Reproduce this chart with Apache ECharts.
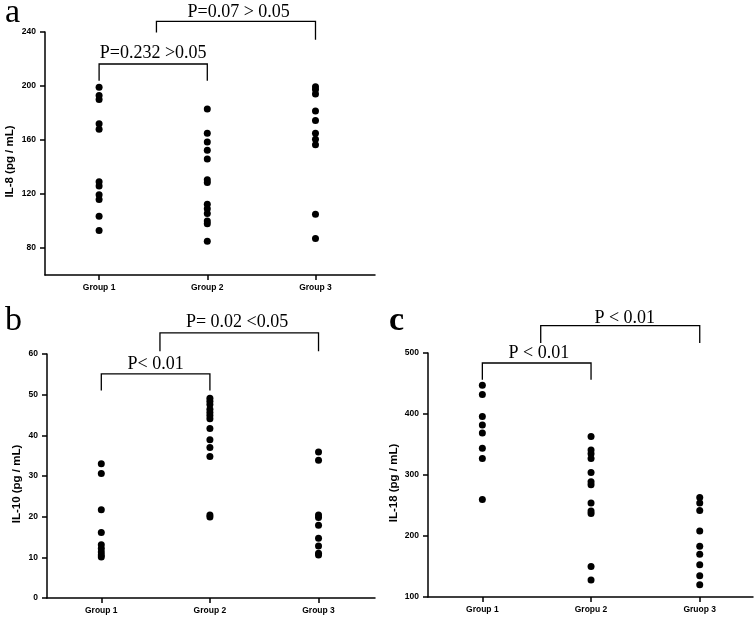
<!DOCTYPE html>
<html><head><meta charset="utf-8">
<script src="https://cdn.jsdelivr.net/npm/echarts@6/dist/echarts.min.js"></script>
<style>html,body{margin:0;padding:0;background:#fff}#chart{width:756px;height:618px}</style>
</head><body><div id="chart"></div>
<script>
// ---------- data ----------
const catsA = ['Group 1', 'Group 2', 'Group 3'];
const catsB = ['Group 1', 'Group 2', 'Group 3'];
const catsC = ['Group 1', 'Gropu 2', 'Gruop 3'];

const il8G1 = [199, 193, 190, 172, 168, 129, 126, 119.5, 116, 103.5, 93];
const il8G2 = [183, 165, 158.5, 152.5, 146, 130.5, 128.5, 112.5, 109, 105.5, 100, 98, 85];
const il8G3 = [199.5, 197.5, 194, 181.5, 174.5, 165, 160.5, 156.5, 105, 87];

const il10G1 = [33, 30.6, 21.7, 16.1, 13.1, 12.2, 11.3, 10.6, 10.1];
const il10G2 = [49.1, 48.4, 47.6, 46.4, 45.6, 44.9, 44.1, 41.7, 38.9, 37.0, 34.8, 20.4, 19.9];
const il10G3 = [35.9, 33.9, 20.4, 19.8, 17.9, 14.7, 12.8, 11.0, 10.6];

const il18G1 = [447, 432, 396, 382, 369, 344, 327, 260];
const il18G2 = [363, 341, 335, 327, 304, 289, 284, 254, 241, 237, 150, 128];
const il18G3 = [263, 254, 242, 208, 183, 170, 153, 135, 120];

const ticksA = [80, 120, 160, 200, 240];
const ticksB = [0, 10, 20, 30, 40, 50, 60];
const ticksC = [100, 200, 300, 400, 500];

// brackets: [xStart, xEnd, yTop, yLeftLegEnd, yRightLegEnd] (data units)
const bracketsA = [[1, 2, 216.3, 203.9, 203.9], [1.53, 3, 247.9, 239.7, 234.3]];
const bracketsB = [[1, 2, 55.1, 51.0, 51.0], [1.54, 3, 65.2, 60.7, 60.7]];
const bracketsC = [[1, 2, 483.6, 456.2, 456.2], [1.537, 3, 544.8, 516.4, 516.4]];
// p-value texts: [x, y(bottom of text), text]
const pTextA = [[1.5, 217.3, 'P=0.232 >0.05'], [2.29, 247.6, 'P=0.07 > 0.05']];
const pTextB = [[1.5, 55.2, 'P< 0.01'], [2.25, 65.6, 'P= 0.02 <0.05']];
const pTextC = [[1.52, 484.2, 'P < 0.01'], [2.31, 542.8, 'P < 0.01']];

// ---------- chart ----------
const chart = echarts.init(document.getElementById('chart'), null, {renderer: 'canvas'});
const SANS = '"Liberation Sans", Arial, sans-serif';
const SERIF = '"Liberation Serif", "Times New Roman", serif';

function xAxis(idx, cats, max) {
  return {
    type: 'value', gridIndex: idx, min: 0.5, max: max,
    axisLine: {show: true, lineStyle: {color: '#000', width: 1.5}},
    axisTick: {show: true, customValues: [1, 2, 3], length: 5, lineStyle: {color: '#000', width: 1.5}},
    axisLabel: {customValues: [1, 2, 3], formatter: v => cats[Math.round(v) - 1], color: '#000',
      fontFamily: SANS, fontWeight: 'bold', fontSize: 8.5, margin: 8},
    splitLine: {show: false}
  };
}
function yAxis(idx, name, min, max, ticks, gap) {
  return {
    type: 'value', gridIndex: idx, min: min, max: max,
    name: name, nameLocation: 'middle', nameGap: gap,
    nameTextStyle: {color: '#000', fontFamily: SANS, fontWeight: 'bold', fontSize: 11.5, padding: [0, 16, 0, 0]},
    axisLine: {show: true, lineStyle: {color: '#000', width: 1.5}},
    axisTick: {show: true, customValues: ticks, length: 5, lineStyle: {color: '#000', width: 1.5}},
    axisLabel: {customValues: ticks, color: '#000', fontFamily: SANS, fontWeight: 'bold', fontSize: 8.5, margin: 9},
    splitLine: {show: false}
  };
}
function scatter(idx, x, vals) {
  return {type: 'scatter', xAxisIndex: idx, yAxisIndex: idx, symbol: 'circle', symbolSize: 7,
    itemStyle: {color: '#000', opacity: 1}, data: vals.map(v => [x, v]), silent: true};
}
function brackets(idx, arr) {
  return {
    type: 'custom', xAxisIndex: idx, yAxisIndex: idx, clip: false, silent: true,
    data: arr.map(d => [d[0], d[2]]),
    renderItem: (params, api) => {
      const d = arr[params.dataIndex];
      const p1 = api.coord([d[0], d[3]]);
      const p2 = api.coord([d[0], d[2]]);
      const p3 = api.coord([d[1], d[2]]);
      const p4 = api.coord([d[1], d[4]]);
      return {type: 'polyline', shape: {points: [p1, p2, p3, p4]},
        style: {stroke: '#000', lineWidth: 1.3, fill: null}};
    }
  };
}
function ptexts(idx, arr) {
  return {
    type: 'custom', xAxisIndex: idx, yAxisIndex: idx, clip: false, silent: true,
    data: arr.map(d => [d[0], d[1]]),
    renderItem: (params, api) => {
      const d = arr[params.dataIndex];
      const p = api.coord([d[0], d[1]]);
      return {type: 'text', x: p[0], y: p[1],
        style: {text: d[2], align: 'center', verticalAlign: 'bottom', font: '18px ' + SERIF, fill: '#000'}};
    }
  };
}

const option = {
  backgroundColor: '#fff',
  animation: false,
  grid: [
    {left: 45, top: 32, width: 330, height: 243, outerBoundsMode: 'none'},
    {left: 47, top: 354, width: 328, height: 244, outerBoundsMode: 'none'},
    {left: 428, top: 353, width: 325, height: 244, outerBoundsMode: 'none'}
  ],
  xAxis: [xAxis(0, catsA, 3.55), xAxis(1, catsB, 3.52), xAxis(2, catsC, 3.49)],
  yAxis: [
    yAxis(0, 'IL-8 (pg / mL)', 60, 240, ticksA, 29),
    yAxis(1, 'IL-10 (pg / mL)', 0, 60, ticksB, 24),
    yAxis(2, 'IL-18 (pg / mL)', 100, 500, ticksC, 28)
  ],
  graphic: [
    {type: 'text', left: 5, top: -4, style: {text: 'a', font: '34px ' + SERIF, fill: '#000'}},
    {type: 'text', left: 5, top: 304, style: {text: 'b', font: '34px ' + SERIF, fill: '#000'}},
    {type: 'text', left: 389, top: 304, style: {text: 'c', font: 'bold 34px ' + SERIF, fill: '#000'}}
  ],
  series: [
    scatter(0, 1, il8G1), scatter(0, 2, il8G2), scatter(0, 3, il8G3),
    scatter(1, 1, il10G1), scatter(1, 2, il10G2), scatter(1, 3, il10G3),
    scatter(2, 1, il18G1), scatter(2, 2, il18G2), scatter(2, 3, il18G3),
    brackets(0, bracketsA), brackets(1, bracketsB), brackets(2, bracketsC),
    ptexts(0, pTextA), ptexts(1, pTextB), ptexts(2, pTextC)
  ]
};
chart.setOption(option);
</script>
</body></html>
